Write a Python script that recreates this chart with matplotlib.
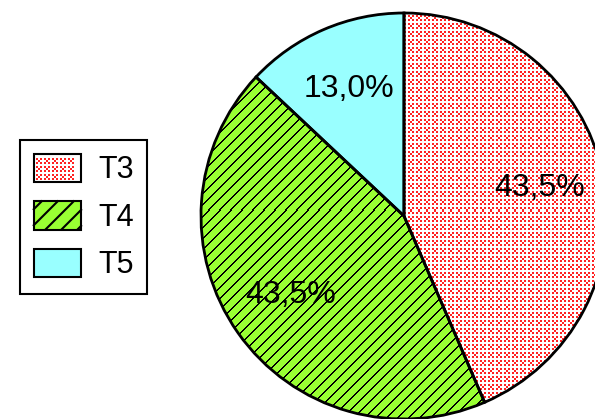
import matplotlib
matplotlib.use("Agg")
import numpy as np
import matplotlib.pyplot as plt
from matplotlib.patches import Rectangle
from matplotlib.lines import Line2D

plt.rcParams['font.family'] = ['Liberation Sans', 'DejaVu Sans']

categories = ["T3", "T4", "T5"]
shares = [43.5, 43.5, 13.0]

fills = ["white", "#99ff33", "#99ffff"]
pattern_kinds = ["cross", "diag", None]
pattern_colors = ["#ff2222", "black", None]

W, H = 595, 419
PX = 72 / 100  # points per pixel at 100 dpi
fig = plt.figure(figsize=(W / 100, H / 100), dpi=100)
ax = fig.add_axes([0, 0, 1, 1])

center = (404, H - 216)
radius = 203


def pct_label(p):
    return f"{p:.1f}%".replace(".", ",")


wedges, texts, autotexts = ax.pie(
    shares, colors=fills, startangle=90, counterclock=False,
    center=center, radius=radius, autopct=pct_label, pctdistance=0.68,
    wedgeprops=dict(linewidth=0), textprops=dict(fontsize=23, color="black"),
)

# pixel-level fill patterns
rows, cols = np.mgrid[0:H, 0:W]


def rgba_mask(mask, color):
    img = np.zeros((H, W, 4))
    img[mask] = matplotlib.colors.to_rgba(color)
    return img


# small red crosses on an 8 px grid
cu, cv = (rows % 8) // 2, (cols % 8) // 2
cross = (((cu == 0) | (cu == 2)) & ((cv == 0) | (cv == 2))) | ((cu == 1) & (cv == 1))
# black diagonal lines, 11 px apart
diag = ((rows + cols) % 11) < 2

masks = {"cross": cross, "diag": diag}
for w, kind, pc in zip(wedges, pattern_kinds, pattern_colors):
    if kind is None:
        continue
    im = ax.imshow(rgba_mask(masks[kind], pc), extent=(0, W, 0, H), origin="upper",
                   interpolation="nearest", zorder=2)
    im.set_clip_path(w)

# wedge outlines
ax.pie(
    shares, colors=["none"] * 3, startangle=90, counterclock=False,
    center=center, radius=radius,
    wedgeprops=dict(linewidth=2, edgecolor="black", facecolor="none", zorder=3),
)
for t in autotexts:
    t.set_zorder(10)

ax.set_xlim(0, W)
ax.set_ylim(0, H)
ax.set_aspect("equal")
ax.axis("off")


class PatternHandler:
    """Legend key: filled box with the slice's pattern and a black border."""

    def __init__(self, face, kind, color):
        self.face, self.kind, self.color = face, kind, color

    def legend_artist(self, legend, orig_handle, fontsize, handlebox):
        x0, y0 = -handlebox.xdescent, -handlebox.ydescent
        w, h = handlebox.width, handlebox.height
        handlebox.add_artist(Rectangle((x0, y0), w, h, facecolor=self.face,
                                       edgecolor="none"))
        if self.kind == "cross":
            step, sq = 8 * PX, 2 * PX
            offs = [(0, 0), (2, 0), (1, 1), (0, 2), (2, 2)]
            yy = y0 + 2 * PX
            while yy + 5 * sq <= y0 + h + 1e-6:
                xx = x0 + 2 * PX
                while xx + 3 * sq <= x0 + w - 1e-6:
                    for a, b in offs:
                        handlebox.add_artist(Rectangle((xx + a * sq, yy + b * sq), sq, sq,
                                                       facecolor=self.color,
                                                       edgecolor="none"))
                    xx += step
                yy += step
        elif self.kind == "diag":
            step = 16 * PX
            c = -h + step / 2
            while c < w:
                # line y - y0 = (x - x0) - c, clipped to the box
                xa = max(0, c)
                xb = min(w, h + c)
                if xb > xa:
                    handlebox.add_artist(Line2D([x0 + xa, x0 + xb],
                                                [y0 + xa - c, y0 + xb - c],
                                                color=self.color, lw=1.5))
                c += step
        border = Rectangle((x0, y0), w, h, facecolor="none", edgecolor="black",
                           linewidth=1.5)
        handlebox.add_artist(border)
        return border


handles = [Rectangle((0, 0), 1, 1) for _ in categories]
handler_map = {hd: PatternHandler(f, k, c)
               for hd, f, k, c in zip(handles, fills, pattern_kinds, pattern_colors)}

leg = fig.legend(
    handles, categories, handler_map=handler_map,
    loc="upper left", bbox_to_anchor=(20 / W, 1 - 140 / H),
    bbox_transform=fig.transFigure, borderaxespad=0,
    fontsize=22, frameon=True, fancybox=False, edgecolor="black", framealpha=1,
    handlelength=1.55, handleheight=1.05, labelspacing=0.52,
    handletextpad=0.55, borderpad=0.45,
)
leg.get_frame().set_linewidth(1.5)

fig.savefig("out.png", dpi=100)
